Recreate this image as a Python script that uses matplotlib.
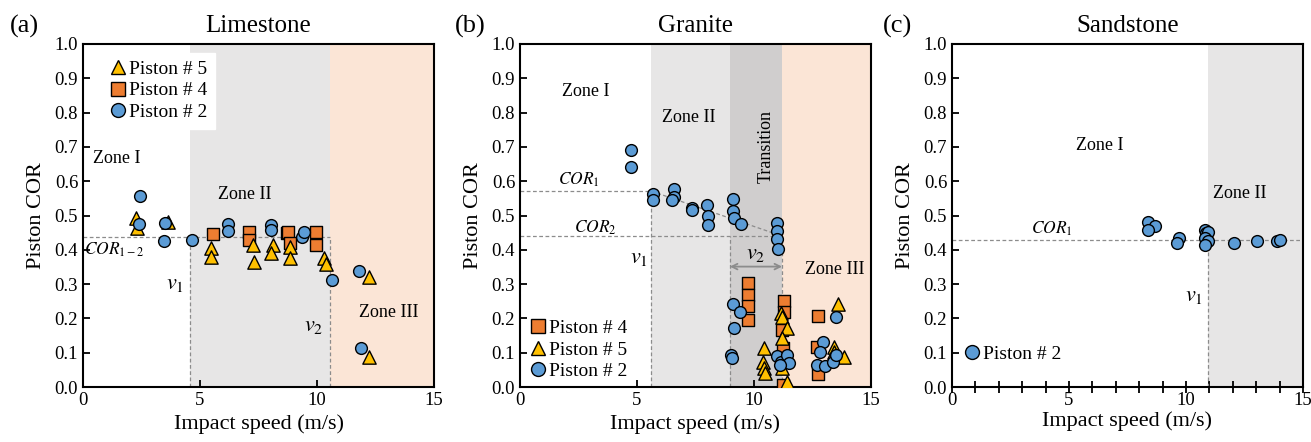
import matplotlib
matplotlib.use("Agg")
import matplotlib.pyplot as plt
from matplotlib.lines import Line2D

plt.rcParams['font.family'] = ['Liberation Serif', 'DejaVu Serif']
plt.rcParams['mathtext.fontset'] = 'stix'

# ---------------- data ----------------
# (a) Limestone
a_p5_x = [2.26, 2.29, 3.65, 5.46, 5.46, 7.28, 7.31, 8.10, 8.02, 8.85, 8.85, 10.30, 10.38, 12.24, 12.21]
a_p5_y = [0.492, 0.463, 0.482, 0.404, 0.380, 0.414, 0.365, 0.414, 0.392, 0.409, 0.375, 0.375, 0.360, 0.322, 0.088]
a_p4_x = [5.54, 7.11, 7.11, 8.70, 8.74, 8.85, 9.96, 9.96]
a_p4_y = [0.446, 0.453, 0.429, 0.450, 0.453, 0.421, 0.453, 0.414]
a_p2_x = [2.44, 2.39, 3.50, 3.48, 4.64, 6.21, 6.21, 8.03, 8.03, 9.34, 9.44, 10.63, 11.81, 11.90]
a_p2_y = [0.558, 0.474, 0.479, 0.426, 0.430, 0.475, 0.456, 0.472, 0.457, 0.438, 0.453, 0.312, 0.339, 0.113]

# (b) Granite
b_p4_x = [9.74, 9.74, 9.74, 9.74, 11.29, 11.29, 11.19, 11.22, 11.22, 12.74, 12.71, 12.74]
b_p4_y = [0.302, 0.268, 0.236, 0.195, 0.252, 0.220, 0.166, 0.113, 0.006, 0.207, 0.117, 0.038]
b_p5_x = [11.14, 11.21, 11.40, 11.21, 10.43, 10.40, 10.43, 10.46, 11.21, 11.43, 13.60, 13.43, 13.43, 13.83]
b_p5_y = [0.215, 0.205, 0.171, 0.142, 0.113, 0.074, 0.054, 0.040, 0.054, 0.016, 0.242, 0.117, 0.103, 0.087]
b_p2_x = [4.76, 4.74, 5.69, 5.69, 6.59, 6.59, 6.50, 7.36, 7.36, 8.00, 8.03, 8.03, 9.11, 9.10, 9.14, 9.44,
          11.00, 11.00, 11.00, 11.03,
          9.11, 9.40, 9.14, 9.03, 9.06, 11.00, 11.14, 11.43, 11.50, 11.13,
          13.50, 12.97, 12.83, 12.71, 13.03, 13.36, 13.50]
b_p2_y = [0.691, 0.642, 0.563, 0.545, 0.577, 0.555, 0.545, 0.521, 0.516, 0.531, 0.500, 0.472, 0.547, 0.514, 0.492, 0.475,
          0.477, 0.455, 0.431, 0.402,
          0.242, 0.218, 0.171, 0.093, 0.084, 0.090, 0.074, 0.093, 0.071, 0.065,
          0.203, 0.132, 0.103, 0.064, 0.061, 0.074, 0.093]

# (c) Sandstone
c_p2_x = [8.38, 8.69, 8.38, 9.69, 9.62, 10.83, 10.87, 10.95, 10.83, 10.95, 10.80, 12.05, 13.05, 13.88, 14.00]
c_p2_y = [0.482, 0.469, 0.459, 0.434, 0.419, 0.458, 0.450, 0.453, 0.434, 0.426, 0.414, 0.419, 0.426, 0.426, 0.430]

# zone limits / reference values
a_v1, a_v2, a_cor = 4.57, 10.55, 0.436
b_v1, b_t0, b_v2, b_cor1, b_cor2 = 5.61, 8.97, 11.2, 0.571, 0.44
c_v1, c_cor = 10.95, 0.429

# ---------------- style ----------------
C2 = "#5b9bd5"   # Piston # 2
C4 = "#ed7d31"   # Piston # 4
C5 = "#ffc000"   # Piston # 5
GREY = "#e7e6e6"
DGREY = "#d0cece"
PEACH = "#fbe5d6"
MS = 72
ref = dict(color="#8c8c8c", ls=(0, (3, 2)), lw=0.9, zorder=2)

fig = plt.figure(figsize=(13.11, 4.42), dpi=100)
W, H = 1311, 442
axes = [fig.add_axes([l / W, 55 / H, 351 / W, 343 / H]) for l in (83, 520, 952)]


def style(ax, title):
    ax.set_xlim(0, 15)
    ax.set_ylim(0, 1)
    ax.set_xticks([0, 5, 10, 15])
    ax.set_yticks([i / 10 for i in range(11)])
    ax.set_yticklabels([f"{i / 10:.1f}" for i in range(11)])
    ax.tick_params(direction="in", length=5, width=1.3, labelsize=13.5)
    for s in ax.spines.values():
        s.set_linewidth(1.5)
    ax.set_xlabel("Impact speed (m/s)", fontsize=16, labelpad=4)
    ax.set_ylabel("Piston COR", fontsize=16, labelpad=6)
    ax.set_title(title, fontsize=18, pad=9)


def pts(ax, x, y, marker, color, s=MS):
    ax.scatter(x, y, marker=marker, s=s, c=color, edgecolors="black", linewidths=1.0, zorder=4)


def handle(marker, color, label):
    return Line2D([], [], ls="", marker=marker, markersize=10, markerfacecolor=color,
                  markeredgecolor="black", markeredgewidth=1.0, label=label)


txt = dict(fontsize=13, ha="center", va="center", zorder=5)
cor_fs = 12.5

# ---------------- (a) Limestone ----------------
ax = axes[0]
style(ax, "Limestone")
ax.axvspan(a_v1, a_v2, color=GREY, lw=0, zorder=0)
ax.axvspan(a_v2, 15, color=PEACH, lw=0, zorder=0)
ax.plot([0, a_v2], [a_cor, a_cor], **ref)
ax.plot([a_v1, a_v1], [0, a_cor], **ref)
ax.plot([a_v2, a_v2], [0, a_cor], **ref)
pts(ax, a_p4_x, a_p4_y, "s", C4)
pts(ax, a_p5_x, a_p5_y, "^", C5, s=MS + 20)
pts(ax, a_p2_x, a_p2_y, "o", C2)
ax.text(1.45, 0.667, "Zone I", **txt)
ax.text(6.9, 0.56, "Zone II", **txt)
ax.text(13.05, 0.217, "Zone III", **txt)
ax.text(1.35, 0.40, r"$COR_{1-2}$", fontsize=cor_fs, ha="center", va="center")
ax.text(3.95, 0.30, r"$v_1$", fontsize=16, ha="center", va="center")
ax.text(9.85, 0.176, r"$v_2$", fontsize=16, ha="center", va="center")
leg = ax.legend(handles=[handle("^", C5, "Piston # 5"), handle("s", C4, "Piston # 4"),
                         handle("o", C2, "Piston # 2")],
                loc="upper left", bbox_to_anchor=(0.055, 0.975), fontsize=14,
                handlelength=0.8, handletextpad=0.15, labelspacing=0.2, borderpad=0.4,
                borderaxespad=0, fancybox=False, framealpha=1, edgecolor="white")
leg.set_zorder(6)

# ---------------- (b) Granite ----------------
ax = axes[1]
style(ax, "Granite")
ax.axvspan(b_v1, b_t0, color=GREY, lw=0, zorder=0)
ax.axvspan(b_t0, b_v2, color=DGREY, lw=0, zorder=0)
ax.axvspan(b_v2, 15, color=PEACH, lw=0, zorder=0)
ax.plot([0, b_v1], [b_cor1, b_cor1], **ref)
ax.plot([0, b_v2], [b_cor2, b_cor2], **ref)
ax.plot([b_v1, b_v2], [b_cor1, b_cor2], **ref)
ax.plot([b_v1, b_v1], [0, b_cor1], **ref)
ax.plot([b_t0, b_t0], [0, b_cor2], **ref)
ax.plot([b_v2, b_v2], [0, b_cor2], **ref)
ax.annotate("", xy=(b_t0, 0.351), xytext=(b_v2, 0.351),
            arrowprops=dict(arrowstyle="<->", color="#8c8c8c", lw=1.3, shrinkA=0, shrinkB=0), zorder=3)
pts(ax, b_p4_x, b_p4_y, "s", C4)
pts(ax, b_p5_x, b_p5_y, "^", C5, s=MS + 20)
pts(ax, b_p2_x, b_p2_y, "o", C2)
ax.text(2.8, 0.861, "Zone I", **txt)
ax.text(7.2, 0.786, "Zone II", **txt)
ax.text(10.5, 0.70, "Transition", rotation=90, **txt)
ax.text(13.45, 0.343, "Zone III", **txt)
ax.text(2.5, 0.603, r"$COR_1$", fontsize=cor_fs, ha="center", va="center")
ax.text(3.2, 0.463, r"$COR_2$", fontsize=cor_fs, ha="center", va="center")
ax.text(5.07, 0.375, r"$v_1$", fontsize=16, ha="center", va="center")
ax.text(10.07, 0.387, r"$v_2$", fontsize=16, ha="center", va="center")
ax.legend(handles=[handle("s", C4, "Piston # 4"), handle("^", C5, "Piston # 5"),
                   handle("o", C2, "Piston # 2")],
          loc="lower left", bbox_to_anchor=(0.03, 0.02), fontsize=14, frameon=False,
          handlelength=0.8, handletextpad=0.15, labelspacing=0.2, borderpad=0,
          borderaxespad=0)

# ---------------- (c) Sandstone ----------------
ax = axes[2]
style(ax, "Sandstone")
ax.set_xticks(range(16), minor=True)
ax.tick_params(axis="x", which="both", direction="inout", length=8, width=1.3, pad=-0.5)
ax.xaxis.labelpad = 2
ax.axvspan(c_v1, 15, color=GREY, lw=0, zorder=0)
ax.plot([0, 15], [c_cor, c_cor], **ref)
ax.plot([c_v1, c_v1], [0, c_cor], **ref)
pts(ax, c_p2_x, c_p2_y, "o", C2)
ax.text(6.3, 0.705, "Zone I", **txt)
ax.text(12.3, 0.563, "Zone II", **txt)
ax.text(4.25, 0.462, r"$COR_1$", fontsize=cor_fs, ha="center", va="center")
ax.text(10.35, 0.263, r"$v_1$", fontsize=16, ha="center", va="center")
ax.legend(handles=[handle("o", C2, "Piston # 2")],
          loc="lower left", bbox_to_anchor=(0.035, 0.07), fontsize=14, frameon=False,
          handlelength=0.8, handletextpad=0.15, borderpad=0, borderaxespad=0)

# panel letters
for xpx, lab in ((10, "(a)"), (455, "(b)"), (883, "(c)")):
    fig.text(xpx / W, 1 - 26 / H, lab, fontsize=19, va="center", ha="left")

fig.savefig("out.png", dpi=100)
